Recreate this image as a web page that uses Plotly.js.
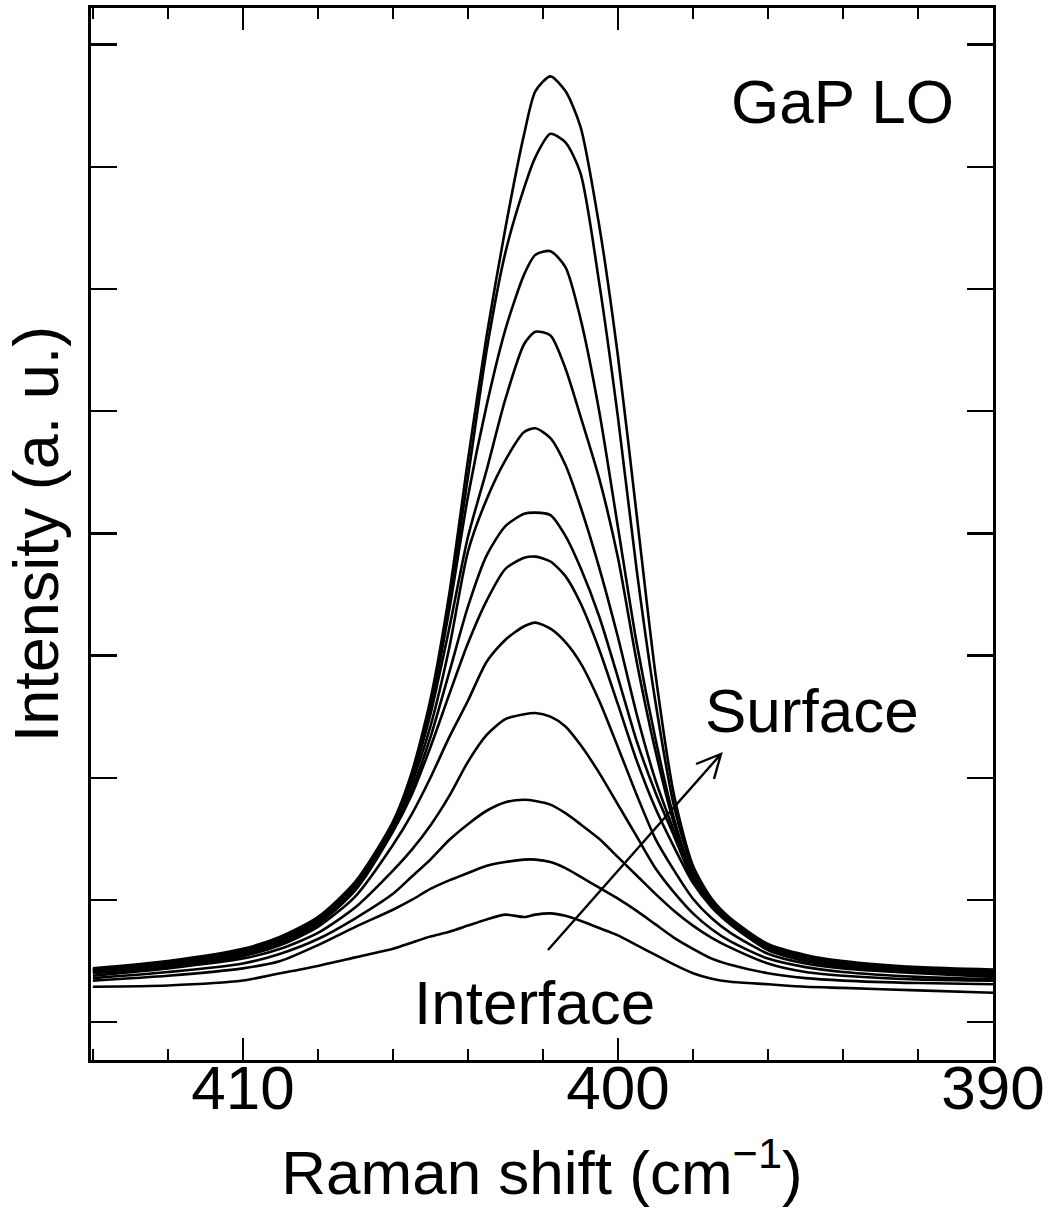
<!DOCTYPE html>
<html>
<head>
<meta charset="utf-8">
<script src="https://cdn.plot.ly/plotly-3.0.1.min.js"></script>
<style>
  html, body { margin: 0; padding: 0; background: #ffffff; }
  #chart { width: 1048px; height: 1217px; }
</style>
</head>
<body>
<div id="chart"></div>
<script>
// Raman shift grid (cm^-1)
const ramanShift = [414, 412, 410, 409, 408, 407, 406, 405.5, 405, 404.5, 404, 403.5, 403, 402.5, 402.2, 401.8, 401.4, 401, 400.5, 400, 399.5, 399, 398.5, 398, 397.5, 397, 396, 395, 394, 392, 390];

// Spectra, from the surface-most (tallest) to the interface (lowest)
const spectrum01 = [0.44,0.50,0.60,0.70,0.86,1.15,1.64,2.04,2.64,3.50,4.60,5.62,6.50,7.27,7.62,7.74,7.62,7.33,6.52,5.45,4.15,2.85,1.85,1.28,1.01,0.85,0.64,0.55,0.50,0.45,0.43];
const spectrum02 = [0.43,0.49,0.59,0.69,0.85,1.14,1.63,2.03,2.61,3.45,4.46,5.50,6.30,6.83,7.08,7.27,7.20,6.95,6.05,4.95,3.70,2.62,1.76,1.25,1.00,0.84,0.63,0.54,0.49,0.44,0.42];
const spectrum03 = [0.43,0.48,0.58,0.68,0.84,1.13,1.62,2.01,2.57,3.37,4.30,5.05,5.67,6.12,6.28,6.31,6.18,5.76,5.00,4.05,3.10,2.32,1.66,1.21,0.98,0.83,0.62,0.53,0.48,0.43,0.41];
const spectrum04 = [0.42,0.47,0.57,0.67,0.83,1.12,1.60,1.99,2.52,3.22,3.97,4.52,5.10,5.55,5.65,5.62,5.35,4.96,4.45,3.80,2.95,2.22,1.62,1.19,0.97,0.82,0.61,0.52,0.47,0.43,0.40];
const spectrum05 = [0.42,0.47,0.56,0.66,0.82,1.11,1.58,1.95,2.42,3.06,3.85,4.28,4.60,4.83,4.86,4.78,4.56,4.22,3.72,3.15,2.52,1.98,1.56,1.17,0.96,0.82,0.60,0.51,0.46,0.42,0.40];
const spectrum06 = [0.41,0.46,0.55,0.65,0.81,1.09,1.57,1.90,2.33,2.86,3.40,3.82,4.06,4.16,4.17,4.15,3.98,3.72,3.32,2.82,2.30,1.88,1.52,1.16,0.95,0.81,0.60,0.50,0.46,0.41,0.39];
const spectrum07 = [0.41,0.46,0.55,0.64,0.80,1.08,1.56,1.86,2.25,2.68,3.10,3.45,3.71,3.80,3.81,3.77,3.65,3.43,3.05,2.60,2.14,1.75,1.43,1.14,0.94,0.80,0.59,0.50,0.45,0.41,0.38];
const spectrum08 = [0.40,0.45,0.54,0.63,0.78,1.03,1.45,1.70,2.00,2.33,2.63,2.95,3.13,3.24,3.27,3.22,3.11,2.94,2.63,2.25,1.86,1.50,1.24,1.01,0.85,0.73,0.56,0.48,0.44,0.40,0.37];
const spectrum09 = [0.38,0.44,0.52,0.60,0.73,0.94,1.24,1.41,1.61,1.85,2.13,2.35,2.48,2.52,2.53,2.50,2.42,2.27,2.04,1.78,1.52,1.26,1.06,0.89,0.76,0.66,0.52,0.45,0.41,0.37,0.35];
const spectrum10 = [0.36,0.41,0.48,0.56,0.68,0.85,1.05,1.19,1.33,1.49,1.62,1.73,1.80,1.82,1.81,1.78,1.71,1.62,1.50,1.35,1.20,1.05,0.91,0.79,0.69,0.61,0.48,0.41,0.38,0.35,0.34];
const spectrum11 = [0.34,0.38,0.44,0.50,0.63,0.78,0.92,1.00,1.09,1.16,1.22,1.28,1.31,1.33,1.33,1.31,1.26,1.19,1.10,1.01,0.91,0.80,0.69,0.60,0.52,0.47,0.40,0.36,0.34,0.32,0.31];
const spectrum12 = [0.29,0.30,0.34,0.40,0.46,0.53,0.60,0.65,0.70,0.74,0.79,0.84,0.88,0.86,0.88,0.89,0.87,0.83,0.77,0.71,0.63,0.55,0.47,0.40,0.355,0.33,0.31,0.29,0.28,0.26,0.24];

const spectra = [spectrum01, spectrum02, spectrum03, spectrum04, spectrum05, spectrum06,
                 spectrum07, spectrum08, spectrum09, spectrum10, spectrum11, spectrum12];

const xTickValues = [410, 400, 390];
const xTickLabels = ["410", "400", "390"];

const titleText = "GaP LO";
const surfaceText = "Surface";
const interfaceText = "Interface";
const xTitleText = "Raman shift (cm<sup>\u22121</sup>)";
const yTitleText = "Intensity (a. u.)";

const FONT = "Liberation Sans, Arial, Helvetica, sans-serif";

const traces = spectra.map((s, i) => ({
  type: "scatter",
  mode: "lines",
  x: ramanShift,
  y: s,
  name: "spectrum " + (i + 1),
  line: { color: "#000000", width: 2.6, shape: "spline", smoothing: 0.7 },
  hoverinfo: "skip",
  showlegend: false
}));

const L = 91, R = 993, T = 8, B = 1060;
const W = R - L, H = B - T;
const px = (x) => (x - L) / W;
const py = (y) => (B - y) / H;

const layout = {
  width: 1048,
  height: 1217,
  margin: { l: L, r: 1048 - R, t: T, b: 1217 - B, pad: 0 },
  paper_bgcolor: "#ffffff",
  plot_bgcolor: "#ffffff",
  showlegend: false,
  font: { family: FONT, color: "#000000", size: 62 },
  xaxis: {
    range: [414.05, 390],
    tickmode: "array",
    tickvals: xTickValues,
    ticktext: xTickLabels,
    ticks: "inside",
    ticklen: 22,
    tickwidth: 2.5,
    tickcolor: "#000000",
    minor: { dtick: 2, tick0: 390, ticks: "inside", ticklen: 11, tickwidth: 2.5, tickcolor: "#000000", showgrid: false },
    showline: true,
    linecolor: "#000000",
    linewidth: 2.8,
    mirror: "ticks",
    showgrid: false,
    zeroline: false,
    tickfont: { family: FONT, size: 62, color: "#000000" },
    ticklabelstandoff: -28,
    title: { text: xTitleText, font: { family: FONT, size: 62, color: "#000000" }, standoff: 30 },
    automargin: false
  },
  yaxis: {
    range: [-0.31, 8.30],
    tickmode: "linear",
    tick0: 0,
    dtick: 1,
    ticks: "inside",
    ticklen: 26,
    tickwidth: 2.5,
    tickcolor: "#000000",
    showticklabels: false,
    showline: true,
    linecolor: "#000000",
    linewidth: 2.8,
    mirror: "ticks",
    showgrid: false,
    zeroline: false,
    title: { text: yTitleText, font: { family: FONT, size: 63, color: "#000000" }, standoff: 10 },
    automargin: false
  },
  annotations: [
    { xref: "paper", yref: "paper", x: px(842), y: py(101), xanchor: "center", yanchor: "middle",
      text: titleText, showarrow: false, font: { family: FONT, size: 62, color: "#000000" } },
    { xref: "paper", yref: "paper", x: px(812), y: py(710), xanchor: "center", yanchor: "middle",
      text: surfaceText, showarrow: false, font: { family: FONT, size: 62, color: "#000000" } },
    { xref: "paper", yref: "paper", x: px(534), y: py(1002), xanchor: "center", yanchor: "middle",
      text: interfaceText, showarrow: false, font: { family: FONT, size: 62, color: "#000000" } }
  ],
  shapes: [
    { type: "path", xref: "paper", yref: "paper",
      path: "M " + px(548) + " " + py(950) + " L " + px(721) + " " + py(754) +
            " M " + px(696) + " " + py(764) + " L " + px(721) + " " + py(754) + " L " + px(714) + " " + py(779),
      line: { color: "#000000", width: 2.4 } }
  ]
};

Plotly.newPlot("chart", traces, layout, { displayModeBar: false, staticPlot: true });
</script>
</body>
</html>
